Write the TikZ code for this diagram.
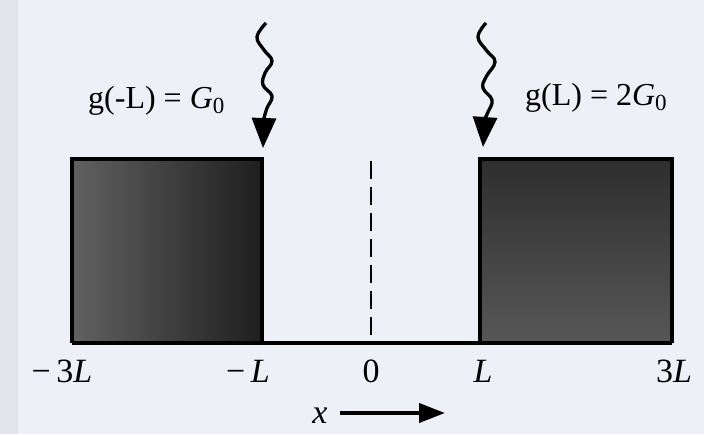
\documentclass[tikz,border=0pt]{standalone}
\usepackage{fontspec}
\setmainfont{Liberation Serif}
\usetikzlibrary{arrows.meta}
\definecolor{bgc}{RGB}{238,240,248}
\definecolor{stripc}{RGB}{226,228,236}
\newcommand{\subz}{\raisebox{-0.18em}{\fontsize{23}{25}\selectfont 0}}
\tikzset{
  lbl/.style={font=\fontsize{34}{38}\selectfont, inner sep=0pt, anchor=base},
  toplbl/.style={font=\fontsize{32}{36}\selectfont, inner sep=0pt, anchor=base west},
  blockedge/.style={draw=black, line width=3.5pt},
  wavy/.style={line width=3.3pt, line join=round, -{Triangle[length=30pt,width=24pt]}},
  axisline/.style={line width=3.5pt},
  dashline/.style={line width=2.8pt, dash pattern=on 18pt off 8pt}
}
\begin{document}
\begin{tikzpicture}[x=1pt,y=-1pt]
\useasboundingbox (0,0) rectangle (704,434);
\fill[bgc] (0,0) rectangle (704,434);
\fill[stripc] (0,0) rectangle (18,434);
% blocks
\shade[left color=black!62, right color=black!88] (72,159) rectangle (262,343);
\shade[top color=black!82, bottom color=black!66] (480,159) rectangle (672,343);
\draw[blockedge] (72,343) -- (72,159) -- (262,159) -- (262,343);
\draw[blockedge] (480,343) -- (480,159) -- (672,159) -- (672,343);
\coordinate (bl) at (72,343);
\coordinate (br) at (672,343);
\draw[axisline] (bl) -- (br);
% dashed centre line
\coordinate (dtop) at (371,161);
\coordinate (dbot) at (371,343);
\draw[dashline] (dtop) -- (dbot);
% wavy arrows
\coordinate (tipL) at (263,148);
\coordinate (tipR) at (483,147);
\draw[wavy] plot[smooth, tension=0.7] coordinates {(266,23) (257,37) (264,50) (272,61) (265,73) (263,85) (272,96) (267,108) (264,118)} -- (tipL);
\draw[wavy] plot[smooth, tension=0.7] coordinates {(486,23) (478,37) (487,51) (495,62) (486,77) (483,88) (492,100) (488,112) (485,118)} -- (tipR);
% top labels
\node[toplbl] (gl) at (88,108) {g(-L) = \textit{G}\subz};
\node[toplbl] (gr) at (525,105) {g(L) = 2\textit{G}\subz};
% axis labels
\node[lbl] (m3L) at (62,382) {−\,3\textit{L}};
\node[lbl] (mL) at (248,382) {−\,\textit{L}};
\node[lbl] (z) at (371,382) {0};
\node[lbl] (pL) at (483,382) {\textit{L}};
\node[lbl] (p3L) at (674,382) {3\textit{L}};
% x arrow
\node[lbl] (xl) at (320,423) {\textit{x}};
\coordinate (xa) at (340,413);
\coordinate (xb) at (445,413);
\draw[line width=4pt, -{Triangle[length=26pt,width=19pt]}] (xa) -- (xb);
\end{tikzpicture}
\end{document}
